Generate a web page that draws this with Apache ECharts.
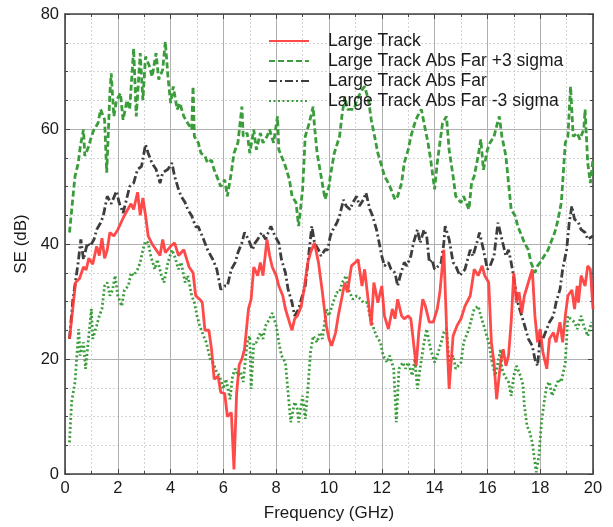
<!DOCTYPE html>
<html>
<head>
<meta charset="utf-8">
<script src="https://cdn.jsdelivr.net/npm/echarts@6/dist/echarts.min.js"></script>
<style>
  html, body { margin: 0; padding: 0; background: #ffffff; }
  #chart { width: 613px; height: 527px; }
</style>
</head>
<body>
<div id="chart"></div>
<script>
// Shielding effectiveness vs. frequency for the large track configuration

const seriesNames = [
  'Large Track',
  'Large Track Abs Far +3 sigma',
  'Large Track Abs Far',
  'Large Track Abs Far -3 sigma'
];

const xTicks = { min: 0, max: 20, step: 2 };
const yTicks = { min: 0, max: 80, step: 20 };

// Large Track (GHz, dB)
const trackFreq = [0.17,0.4,0.55,0.7,0.8,0.9,1.05,1.2,1.3,1.4,1.5,1.6,1.7,1.85,2.0,2.15,2.3,2.5,2.6,2.75,2.85,2.95,3.05,3.15,3.3,3.45,3.6,3.7,3.8,4.0,4.15,4.3,4.5,4.6,4.7,4.85,4.95,5.1,5.2,5.3,5.45,5.55,5.65,5.8,5.9,6.05,6.15,6.3,6.4,6.5,6.6,6.7,6.8,6.95,7.05,7.15,7.3,7.4,7.5,7.65,7.75,7.85,8.0,8.1,8.25,8.35,8.5,8.6,8.7,8.8,8.95,9.05,9.2,9.3,9.45,9.6,9.75,9.9,10.0,10.1,10.25,10.35,10.5,10.6,10.7,10.85,11.0,11.1,11.25,11.35,11.45,11.6,11.7,11.85,12.0,12.1,12.25,12.4,12.5,12.6,12.75,12.85,13.0,13.1,13.2,13.3,13.4,13.55,13.65,13.8,13.95,14.1,14.2,14.35,14.45,14.55,14.7,14.85,15.0,15.15,15.35,15.5,15.65,15.8,15.9,16.05,16.15,16.25,16.35,16.5,16.6,16.7,16.8,16.9,17.0,17.1,17.2,17.3,17.4,17.55,17.7,17.8,17.9,18.0,18.1,18.25,18.35,18.5,18.6,18.75,18.85,18.95,19.05,19.2,19.3,19.4,19.45,19.55,19.7,19.8,19.9,20.0];
const trackSE = [23.5,33.3,34,36,35.5,37.5,36.5,39.6,38,41,37.5,39,42,41.4,42.5,44,45.4,47,46,49,45,48,45,41.4,40,39,38,40.8,38.5,39.6,40.2,38,39,37.5,36,35,31,30.4,29.8,25,25,21.7,16.5,17,14.2,14,10,10.7,0.8,14,19,20,21.7,28.7,30.4,36,34.5,36.8,34.5,40.8,38,36,34.5,32.7,31,28.7,26.4,25,27,27.5,29.2,32,36.8,38.5,40.2,36.8,31.6,25.8,23.5,22.3,24.6,27.5,31,33.3,31.6,36.2,36.8,37.3,32.7,35.6,31.6,25.8,33.3,29.8,32.7,27.5,25.2,28.7,27,30.4,27.5,27,27.5,27,22.9,18.8,24.6,30.4,29.2,26.4,26.4,28.7,31.6,39,25.8,14.8,24,25.8,27,29.2,31,35.6,34.5,36.2,34.5,33.3,22.9,19.4,13,19.4,21.7,18.8,20.6,26.4,35,29.8,31.6,28,31,33.3,35.6,27.5,22.9,25.2,21.2,18.3,23.5,24.6,22.9,26.4,22.9,27.5,31,32,28.7,32.7,29.8,34.5,32.7,36.2,35.6,28.7];

// Large Track Abs Far +3 sigma
const plusFreq = [0.17,0.28,0.38,0.5,0.58,0.7,0.75,0.9,1.0,1.1,1.25,1.35,1.5,1.58,1.7,1.75,1.85,1.95,2.1,2.2,2.35,2.45,2.6,2.7,2.85,2.95,3.05,3.2,3.3,3.45,3.55,3.7,3.8,3.9,4.0,4.1,4.25,4.35,4.5,4.65,4.8,4.85,4.9,5.05,5.15,5.3,5.4,5.55,5.65,5.8,5.9,6.05,6.15,6.3,6.4,6.55,6.7,6.75,6.9,7.0,7.15,7.25,7.4,7.5,7.65,7.75,7.9,8.05,8.1,8.25,8.35,8.5,8.6,8.75,8.85,9.0,9.1,9.25,9.4,9.45,9.55,9.7,9.85,10.0,10.05,10.2,10.4,10.5,10.6,10.7,10.95,11.05,11.25,11.35,11.5,11.6,11.75,11.85,12.0,12.1,12.25,12.35,12.5,12.6,12.75,12.85,13.0,13.1,13.25,13.35,13.5,13.6,13.75,13.85,14.0,14.1,14.3,14.45,14.55,14.7,14.8,15.0,15.1,15.3,15.4,15.5,15.65,15.75,15.85,16.0,16.1,16.25,16.35,16.45,16.55,16.7,16.8,16.9,17.05,17.15,17.3,17.4,17.55,17.65,17.8,17.9,18.0,18.15,18.3,18.4,18.55,18.65,18.8,18.85,18.95,19.05,19.15,19.25,19.4,19.5,19.65,19.7,19.8,19.9,20.0];
const plusSE = [42,47.2,51.8,54,57,59.9,55.3,57,58.7,59.9,61,63.4,61.6,52.4,66.2,69.7,62.2,65,66.2,61.6,65,63.4,74,62.2,73.2,65,72.6,70.9,69.1,73.2,68.6,70.3,75.2,69.1,64.5,67.4,63.4,64.5,62.2,61,59.9,67.4,58.7,57.6,55.8,55.3,54.1,54.6,52.9,51.2,50,51.2,48.3,52.4,55.8,57.6,63.9,58.7,59.3,55.8,59.9,56.4,59.3,57.6,58.7,59.9,57.6,62.2,56.4,54.7,53.5,51.2,48.3,47.2,43.1,49.5,58.7,61,63.9,60.5,55.8,51.8,47.8,50,51.8,55.8,58.7,62.7,65.6,63.4,63.4,65,66.8,67.4,65,61.6,58.2,55.8,53.5,51.8,50.6,49.5,47.7,48.3,50.6,54.1,56.4,58.7,61,62.2,63.4,61,57.6,54.7,49.5,54.1,61,62.2,56.4,51.8,48.3,47.2,48.3,46,50.6,51.8,55.3,58.2,52.9,56.4,57.6,58.7,60.5,62.2,58.7,55.3,50.6,46,44.9,43.1,41.4,40.2,39,36.8,35,36.2,36.8,37.9,39,40.2,42,43.7,47.2,50.6,57.6,58.7,67.4,58.7,59.3,58.2,59.9,63.4,54.1,50.6,54.7];

// Large Track Abs Far
const farFreq = [0.17,0.3,0.5,0.6,0.7,0.85,0.95,1.1,1.2,1.35,1.45,1.6,1.75,1.95,2.05,2.2,2.3,2.45,2.6,2.75,2.9,3.05,3.15,3.3,3.45,3.6,3.7,3.9,4.05,4.15,4.3,4.4,4.55,4.65,4.8,4.95,5.05,5.25,5.4,5.6,5.75,5.9,6.05,6.15,6.3,6.45,6.55,6.7,6.8,6.95,7.1,7.2,7.3,7.45,7.6,7.7,7.8,7.95,8.1,8.2,8.35,8.45,8.6,8.7,8.85,8.95,9.1,9.2,9.35,9.45,9.6,9.7,9.85,9.95,10.05,10.15,10.3,10.4,10.55,10.65,10.8,10.9,11.05,11.15,11.3,11.4,11.55,11.65,11.8,11.9,12.0,12.1,12.25,12.35,12.5,12.6,12.7,12.85,12.95,13.1,13.2,13.35,13.45,13.6,13.7,13.8,13.9,14.0,14.15,14.25,14.35,14.4,14.55,14.7,14.8,14.95,15.15,15.35,15.45,15.6,15.7,15.85,16.0,16.1,16.25,16.4,16.55,16.7,16.8,16.9,17.05,17.15,17.3,17.45,17.55,17.7,17.8,17.9,18.0,18.1,18.25,18.35,18.5,18.6,18.75,18.85,19.0,19.1,19.2,19.3,19.45,19.55,19.7,19.8,20.0];
const farSE = [23.5,30.4,36.8,40.8,37.3,40.2,39.6,40.8,42.5,43.7,44.9,48.3,47,49.2,47.2,45.4,47.2,50,50.6,53,53.5,57.3,55.8,54,53,50.6,52.4,53,54.1,51.8,49.5,48.3,47.2,46,44.9,43,43,40.8,39,37.3,35.6,32.1,32.7,32.7,35.6,36.8,38.5,40.2,42,40.8,39,40.2,40.8,42,40.8,42,43.1,41.4,40.2,37.3,35,32.1,29.8,27.5,28.7,30.4,32.7,36.8,43.1,40.2,39,37.9,39,39,41.4,42.5,43.7,44.9,47.7,46.6,46,47.2,48.3,46.6,47.7,48.9,46,44.9,42.5,40.2,37.9,36.2,36.8,35.6,35,32.7,34.5,36.8,36.2,37.9,40.2,42.5,40.2,42.5,41.4,36.8,37.3,35.6,36.2,36.8,40.2,43.1,40.8,36.8,36.2,34.5,35.6,39,37.9,40.2,42,39,35.6,36.2,37.9,43.7,40.8,37.9,39,36.8,32.7,29.8,27.5,25.2,23.5,22.3,20,18.8,24,23.5,25.2,26.4,27.5,29.8,32.1,35.6,39,43.7,46.6,44.3,43.7,42.5,42,40.8,41.4];

// Large Track Abs Far -3 sigma
const minusFreq = [0.17,0.25,0.38,0.45,0.52,0.57,0.7,0.78,0.9,1.0,1.05,1.2,1.3,1.4,1.5,1.6,1.7,1.8,1.9,2.0,2.15,2.25,2.4,2.5,2.6,2.75,2.85,2.95,3.05,3.15,3.25,3.4,3.5,3.65,3.75,3.9,4.05,4.15,4.3,4.4,4.55,4.65,4.8,4.9,5.0,5.1,5.25,5.35,5.5,5.6,5.75,5.85,6.0,6.1,6.25,6.35,6.45,6.55,6.65,6.75,6.8,6.9,7.0,7.05,7.15,7.25,7.4,7.5,7.6,7.75,7.85,8.0,8.1,8.2,8.35,8.45,8.55,8.7,8.8,8.85,9.0,9.1,9.2,9.3,9.4,9.55,9.65,9.75,9.9,10.0,10.15,10.3,10.4,10.5,10.65,10.75,10.9,11.05,11.2,11.3,11.45,11.55,11.7,11.8,11.95,12.05,12.2,12.3,12.45,12.55,12.65,12.8,12.9,13.0,13.15,13.25,13.35,13.45,13.6,13.7,13.85,14.0,14.1,14.25,14.35,14.45,14.55,14.7,14.8,15.0,15.1,15.3,15.4,15.5,15.65,15.75,15.9,16.05,16.15,16.3,16.4,16.5,16.55,16.65,16.8,16.9,17.0,17.1,17.25,17.35,17.4,17.5,17.6,17.7,17.85,17.95,18.05,18.15,18.25,18.35,18.45,18.55,18.7,18.8,18.95,19.05,19.15,19.3,19.4,19.55,19.65,19.8,19.95];
const minusSE = [5.5,12.5,16,20.6,25.2,20.6,22.9,18.3,24,28.7,23.5,25.8,27.5,28.7,32.7,33.3,31,32,34.5,31,29.2,32,32.7,35,34.5,35.6,36.8,39,40.5,40.2,37.9,35.6,37.3,34.5,33.3,36.8,39,37.9,35.6,36.8,33.3,34.5,31,29.8,27.5,25.8,24,22.9,20,19.4,17.7,17.1,14.8,16.5,13,17.1,18.3,17.1,17.7,16,18.3,22.9,24,14.8,22.9,22.9,24.6,23.5,25.8,27,28,25.8,22.9,20.6,19.4,14.2,9,12.5,11.3,9,13.6,9.6,14.8,21.2,24,22.9,24.6,23.5,28.7,27.5,29.8,31.6,31.6,33.3,34.5,32,30.4,31,30.4,29.8,29.8,27.5,25.2,24,22.9,20.6,19.4,20.6,18.3,9,18.3,19.4,18.3,19.4,17.1,20,14.8,18.3,22.9,25.2,21.7,19.4,20.6,22.9,24.6,25.2,19.4,20.6,18.3,19.4,22.9,25.2,27,28.7,29.2,27.5,25.2,22.9,20,17.1,19.4,21.7,18.3,17.1,16,13.6,17.1,18.8,17.1,15.4,11.9,8.4,7.3,5.5,0.3,3.2,9,12.5,15.4,16,13.6,14.8,16.5,16,19.4,27.5,27,26.4,25.2,27.5,25.8,24,26.4];

function toPoints(freq, values) {
  return freq.map((f, i) => [f, values[i]]);
}

const FONT = '"Liberation Sans", Arial, sans-serif';
const TEXT = '#1a1a1a';
const FRAME = '#444444';
const RED = '#ff3b3b';
const GREEN = '#3a9c3a';
const DARK = '#3d3d3d';

const gridMajor = { show: true, lineStyle: { color: '#b0b0b0', width: 1, type: 'solid' } };
const gridMinor = { show: true, lineStyle: { color: '#d4d4d4', width: 1, type: [2, 2] } };

function valueAxis(range, opts) {
  return Object.assign({
    type: 'value',
    min: range.min,
    max: range.max,
    interval: range.step,
    axisLine: { show: true, onZero: false, lineStyle: { color: FRAME, width: 1.6 } },
    axisTick: { show: true, inside: true, length: 5, lineStyle: { color: FRAME, width: 1 } },
    minorTick: { show: true, splitNumber: 2, length: 3, lineStyle: { color: FRAME, width: 1 } },
    splitLine: { show: false },
    minorSplitLine: { show: false }
  }, opts);
}

const chart = echarts.init(document.getElementById('chart'), null, { renderer: 'canvas' });

chart.setOption({
  animation: false,
  backgroundColor: '#ffffff',
  grid: { left: 65, right: 20, top: 14, bottom: 51, containLabel: false },
  legend: {
    orient: 'vertical',
    left: 268,
    top: 32,
    padding: 0,
    itemWidth: 40,
    itemHeight: 14,
    itemGap: 2,
    data: seriesNames,
    itemStyle: { opacity: 0, borderWidth: 0 },
    textStyle: { fontFamily: FONT, fontSize: 17.5, color: TEXT, padding: [0, 0, 0, 14] }
  },
  xAxis: [
    valueAxis(xTicks, {
      position: 'bottom',
      name: 'Frequency (GHz)',
      nameLocation: 'middle',
      nameGap: 31,
      nameTextStyle: { fontFamily: FONT, fontSize: 17, color: TEXT },
      axisLabel: { show: true, margin: 6, fontFamily: FONT, fontSize: 16.5, color: TEXT },
      minorTick: { show: true, splitNumber: 2, length: 3, lineStyle: { color: FRAME, width: 1 } },
      splitLine: gridMajor,
      minorSplitLine: gridMinor
    }),
    valueAxis(xTicks, {
      position: 'top',
      axisLabel: { show: false },
      minorTick: { show: true, splitNumber: 2, length: 3, lineStyle: { color: FRAME, width: 1 } }
    })
  ],
  yAxis: [
    valueAxis(yTicks, {
      position: 'left',
      name: 'SE (dB)',
      nameLocation: 'middle',
      nameGap: 27,
      nameTextStyle: { fontFamily: FONT, fontSize: 17, color: TEXT },
      axisLabel: { show: true, margin: 6, fontFamily: FONT, fontSize: 16.5, color: TEXT },
      minorTick: { show: true, splitNumber: 4, length: 3, lineStyle: { color: FRAME, width: 1 } },
      splitLine: gridMajor,
      minorSplitLine: gridMinor
    }),
    valueAxis(yTicks, {
      position: 'right',
      axisLabel: { show: false },
      minorTick: { show: true, splitNumber: 4, length: 3, lineStyle: { color: FRAME, width: 1 } }
    })
  ],
  series: [
    {
      name: seriesNames[0],
      type: 'line',
      data: toPoints(trackFreq, trackSE),
      symbol: 'none',
      z: 5,
      lineStyle: { color: RED, width: 2.8, type: 'solid', opacity: 0.92 },
      itemStyle: { color: RED }
    },
    {
      name: seriesNames[1],
      type: 'line',
      data: toPoints(plusFreq, plusSE),
      symbol: 'none',
      z: 3,
      lineStyle: { color: GREEN, width: 2.8, type: [6, 3] },
      itemStyle: { color: GREEN }
    },
    {
      name: seriesNames[2],
      type: 'line',
      data: toPoints(farFreq, farSE),
      symbol: 'none',
      z: 4,
      lineStyle: { color: DARK, width: 2.8, type: [8, 3, 2, 3] },
      itemStyle: { color: DARK }
    },
    {
      name: seriesNames[3],
      type: 'line',
      data: toPoints(minusFreq, minusSE),
      symbol: 'none',
      z: 3,
      lineStyle: { color: GREEN, width: 2.8, type: [2, 2.5] },
      itemStyle: { color: GREEN }
    }
  ]
});
</script>
</body>
</html>
